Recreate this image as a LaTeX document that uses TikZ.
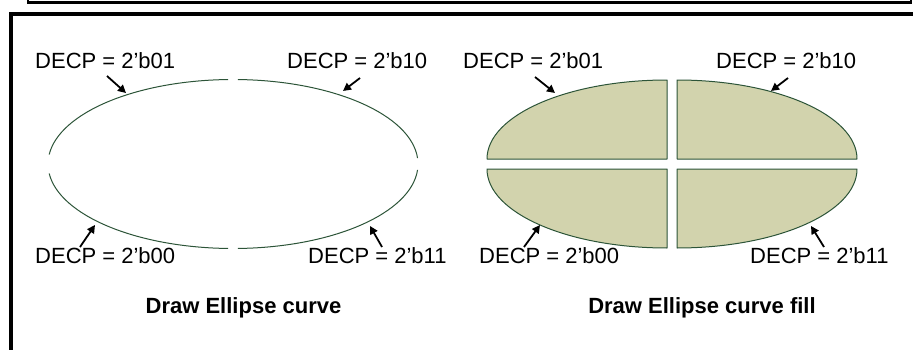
\documentclass[tikz,border=0pt]{standalone}
\usepackage{fontspec}
\setmainfont{Liberation Sans}
\usetikzlibrary{arrows.meta}
\definecolor{ecurve}{RGB}{44,84,56}
\definecolor{efill}{RGB}{210,211,173}
\tikzset{
  lbl/.style={inner sep=0pt, anchor=base west, font=\fontsize{22}{26}\selectfont},
  ttl/.style={inner sep=0pt, anchor=base, font=\fontsize{22}{26}\selectfont\bfseries},
  curve/.style={draw=ecurve, line width=1pt},
  quad/.style={draw=ecurve, fill=efill, line width=1pt, line join=round},
  pointer/.style={line width=1.8pt, -{Triangle[length=8pt,width=8pt]}},
  frame/.style={draw=black, line width=3.5pt}
}
\begin{document}
\begin{tikzpicture}[x=1pt,y=1pt]
\useasboundingbox (0,0) rectangle (913,349);
\clip (0,0) rectangle (913,349);
% frames
\draw[draw=black, line width=2.5pt] (28,346.5) rectangle (911,370);
\draw[frame] (11,-20) rectangle (940,335);
% left ellipse (curve only)
\coordinate (cE) at (233,185);
\draw[curve] ([shift={(91.5:185 and 84.5)}]cE) arc[start angle=91.5, end angle=173.5, x radius=185, y radius=84.5];
\draw[curve] ([shift={(4:185 and 84.5)}]cE) arc[start angle=4, end angle=88.5, x radius=185, y radius=84.5];
\draw[curve] ([shift={(186.5:185 and 84.5)}]cE) arc[start angle=186.5, end angle=268.5, x radius=185, y radius=84.5];
\draw[curve] ([shift={(271.5:185 and 84.5)}]cE) arc[start angle=271.5, end angle=356, x radius=185, y radius=84.5];
% right ellipse (filled quadrants)
\draw[quad] (667,190) -- (487,190) arc[start angle=180, end angle=90, x radius=180, y radius=79] -- cycle;
\draw[quad] (677,190) -- (677,269) arc[start angle=90, end angle=0, x radius=180, y radius=79] -- cycle;
\draw[quad] (667,180) -- (487,180) arc[start angle=180, end angle=270, x radius=180, y radius=79] -- cycle;
\draw[quad] (677,180) -- (857,180) arc[start angle=0, end angle=-90, x radius=180, y radius=79] -- cycle;
% labels left
\node[lbl] (l01) at (35,280) {DECP = 2’b01};
\node[lbl] (l10) at (287,280) {DECP = 2’b10};
\node[lbl] (l00) at (35,86) {DECP = 2’b00};
\node[lbl] (l11) at (308,86) {DECP = 2’b11};
\node[ttl] (t1) at (243.5,36) {Draw Ellipse curve};
% labels right
\node[lbl] (r01) at (463,280) {DECP = 2’b01};
\node[lbl] (r10) at (716,280) {DECP = 2’b10};
\node[lbl] (r00) at (479,86) {DECP = 2’b00};
\node[lbl] (r11) at (750,86) {DECP = 2’b11};
\node[ttl] (t2) at (702,36) {Draw Ellipse curve fill};
% arrows left
\coordinate (a01s) at (107,273); \coordinate (a01e) at (126,256);
\coordinate (a10s) at (360,271); \coordinate (a10e) at (343,258);
\coordinate (a00s) at (80,102);  \coordinate (a00e) at (95,124);
\coordinate (a11s) at (382,102); \coordinate (a11e) at (370,123);
\draw[pointer] (a01s) -- (a01e);
\draw[pointer] (a10s) -- (a10e);
\draw[pointer] (a00s) -- (a00e);
\draw[pointer] (a11s) -- (a11e);
% arrows right
\coordinate (b01s) at (535,272); \coordinate (b01e) at (555,256);
\coordinate (b10s) at (788,271); \coordinate (b10e) at (771,258);
\coordinate (b00s) at (524,102); \coordinate (b00e) at (540,124);
\coordinate (b11s) at (824,102); \coordinate (b11e) at (811,123);
\draw[pointer] (b01s) -- (b01e);
\draw[pointer] (b10s) -- (b10e);
\draw[pointer] (b00s) -- (b00e);
\draw[pointer] (b11s) -- (b11e);
\end{tikzpicture}
\end{document}
